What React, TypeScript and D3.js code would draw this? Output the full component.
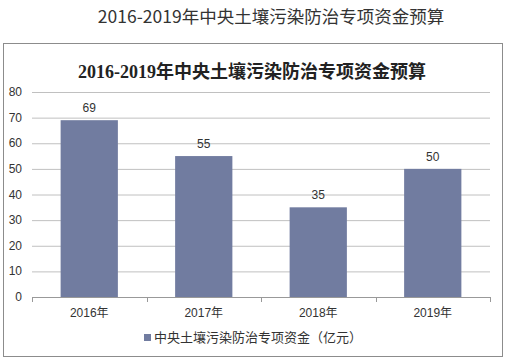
import React from "react";
import * as d3 from "d3";

const categories = ["2016年", "2017年", "2018年", "2019年"];
const values = [69, 55, 35, 50];
const yTicks = [0, 10, 20, 30, 40, 50, 60, 70, 80];
const outerTitle = "2016-2019年中央土壤污染防治专项资金预算";
const innerTitle = "2016-2019年中央土壤污染防治专项资金预算";
const legendLabel = "中央土壤污染防治专项资金（亿元）";

export default function App() {
  const W = 508, H = 361;
  const left = 32, right = 490, top = 92, bottom = 297;
  const x = d3.scaleBand().domain(categories).range([left, right]).paddingInner(0.5).paddingOuter(0.25);
  const xb = d3.scaleBand().domain(categories).range([left, right]);
  const y = d3.scaleLinear().domain([0, 80]).range([bottom, top]);
  const barColor = "#717CA0";
  const sans = "'Liberation Sans', Arial, 'Noto Sans CJK SC', sans-serif";
  return (
    <svg width={W} height={H} style={{ position: "absolute", left: 0, top: 0, background: "#fff" }}>
      <text x={271} y={23} textAnchor="middle" fontSize={17.5} fill="#333" fontFamily="'Noto Sans CJK SC', sans-serif">{outerTitle}</text>
      <rect x={3.5} y={43.5} width={499} height={313} fill="#fff" stroke="#8c8c8c" />
      <text x={252} y={78} textAnchor="middle" fontSize={18} fontWeight="bold" fill="#222" fontFamily="'Liberation Serif', 'Noto Sans CJK SC', serif">{innerTitle}</text>
      {yTicks.map((t) => (
        <g key={t}>
          {t > 0 && <line x1={left} x2={right} y1={y(t) + 0.5} y2={y(t) + 0.5} stroke="#c0c0c0" />}
          <text x={22} y={y(t) + 4} textAnchor="end" fontSize={12} fill="#333" fontFamily={sans}>{t}</text>
        </g>
      ))}
      <line x1={left} x2={right} y1={bottom + 0.5} y2={bottom + 0.5} stroke="#999" />
      {[...categories.map((c) => xb(c) as number), right].map((tx, i) => (
        <line key={i} x1={Math.round(tx) + 0.5} x2={Math.round(tx) + 0.5} y1={bottom} y2={bottom + 5} stroke="#999" />
      ))}
      {categories.map((c, i) => (
        <g key={c}>
          <rect x={x(c)} y={y(values[i])} width={x.bandwidth()} height={bottom - y(values[i])} fill={barColor} />
          <text x={(x(c) as number) + x.bandwidth() / 2} y={y(values[i]) - 8} textAnchor="middle" fontSize={12} fill="#333" fontFamily={sans}>{values[i]}</text>
          <text x={(xb(c) as number) + xb.bandwidth() / 2} y={317} textAnchor="middle" fontSize={12} fill="#333" fontFamily={sans}>{c}</text>
        </g>
      ))}
      <rect x={144} y={334} width={7} height={7} fill={barColor} />
      <text x={154} y={342} fontSize={13} fill="#333" fontFamily="'Noto Sans CJK SC', sans-serif">{legendLabel}</text>
    </svg>
  );
}
